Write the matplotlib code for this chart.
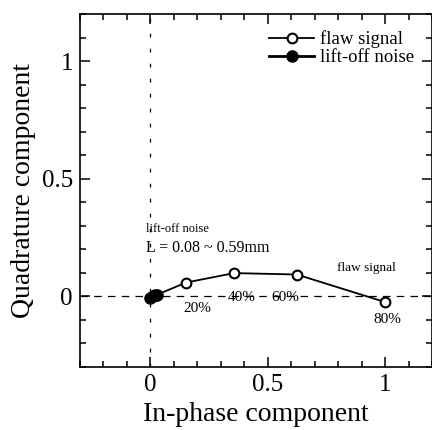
import matplotlib
matplotlib.use("Agg")
import matplotlib.pyplot as plt
from matplotlib.lines import Line2D
from matplotlib.ticker import MultipleLocator

plt.rcParams["font.family"] = "serif"
plt.rcParams["font.serif"] = ["Liberation Serif", "DejaVu Serif"]

# flaw signal (in-phase, quadrature), depth labels
flaw_x = [0.03, 0.153, 0.357, 0.624, 1.0]
flaw_y = [0.008, 0.059, 0.099, 0.093, -0.024]
flaw_labels = ["", "20%", "40%", "60%", "80%"]
label_pos = [None, (0.2, -0.05), (0.39, -0.005), (0.575, -0.005), (1.01, -0.1)]

# lift-off noise cluster
lift_x = [0.0, 0.01, 0.02, 0.03]
lift_y = [-0.006, 0.0, 0.004, 0.008]

fig = plt.figure(figsize=(4.32, 4.30), dpi=100)
ax = fig.add_axes([0.185, 0.1465, 0.815, 0.821])

ax.axhline(0, color="black", lw=0.9, ls=(0, (6, 5)), zorder=1)
ax.axvline(0, color="black", lw=0.9, ls=(0, (3, 9)), zorder=1)

ax.plot(flaw_x, flaw_y, "-", color="black", lw=1.3, zorder=2)
ax.plot(flaw_x[1:], flaw_y[1:], "o", color="black", mfc="white", ms=7,
        mew=1.5, zorder=3)
ax.plot(lift_x, lift_y, "o-", color="black", mfc="black", ms=8, lw=2,
        zorder=4)

for lab, pos in zip(flaw_labels, label_pos):
    if pos is None:
        continue
    ax.text(pos[0], pos[1], lab, fontsize=11, ha="center", va="center",
            zorder=5)

ax.text(-0.02, 0.285, "lift-off noise", fontsize=9, ha="left",
        va="center")
ax.text(-0.02, 0.205, "L = 0.08 ~ 0.59mm", fontsize=11.5, ha="left",
        va="center")
ax.text(0.92, 0.12, "flaw signal", fontsize=9.5, ha="center", va="center")

ax.set_xlim(-0.3, 1.2)
ax.set_ylim(-0.3, 1.2)
ax.xaxis.set_minor_locator(MultipleLocator(0.1))
ax.yaxis.set_minor_locator(MultipleLocator(0.1))
ax.set_xticks([0, 0.5, 1])
ax.set_xticklabels(["0", "0.5", "1"])
ax.set_yticks([0, 0.5, 1])
ax.set_yticklabels(["0", "0.5", "1"])
ax.tick_params(which="both", direction="in", top=True, right=True,
               labelsize=18, width=1.1)
ax.tick_params(which="major", length=7, pad=5)
ax.tick_params(which="minor", length=4)
for s in ax.spines.values():
    s.set_linewidth(1.2)

ax.set_xlabel("In-phase component", fontsize=20, labelpad=4)
ax.set_ylabel("Quadrature component", fontsize=20, labelpad=4)

handles = [
    Line2D([], [], color="black", lw=1.3, marker="o", mfc="white", ms=7,
           mew=1.5),
    Line2D([], [], color="black", lw=2, marker="o", mfc="black", ms=8),
]
ax.legend(handles, ["flaw signal", "lift-off noise"], loc="upper right",
          bbox_to_anchor=(0.97, 0.975), frameon=False, fontsize=13.5,
          handlelength=2.4, handletextpad=0.3, labelspacing=0.05,
          borderaxespad=0)

fig.savefig("out.png", dpi=100)
